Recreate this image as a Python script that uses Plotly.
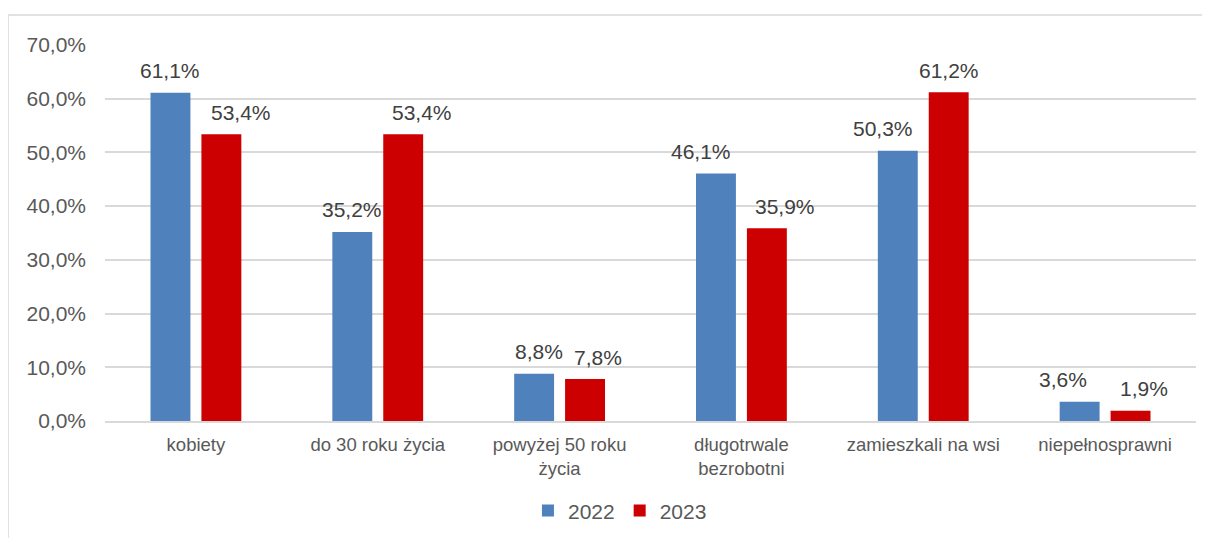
import plotly.graph_objects as go

categories = ["kobiety", "do 30 roku życia", "powyżej 50 roku<br>życia",
              "długotrwale<br>bezrobotni", "zamieszkali na wsi", "niepełnosprawni"]
values_2022 = [61.1, 35.2, 8.8, 46.1, 50.3, 3.6]
values_2023 = [53.4, 53.4, 7.8, 35.9, 61.2, 1.9]
series_names = ["2022", "2023"]
tick_values = [0, 10, 20, 30, 40, 50, 60, 70]
tick_labels = ["0,0%", "10,0%", "20,0%", "30,0%", "40,0%", "50,0%", "60,0%", "70,0%"]

colors = ["#4F81BD", "#CC0000"]
# label nudges (px) mimicking the original label placement
nudge_2022 = [0, 0, 5, -15, -15, -17]
nudge_2023 = [20, 19, 13, 18, 0, 13]

def fmt(v):
    return f"{v:.1f}".replace(".", ",") + "%"

fig = go.Figure()
for name, vals, col in zip(series_names, [values_2022, values_2023], colors):
    fig.add_trace(go.Bar(x=categories, y=vals, name=name, marker_color=col,
                         marker_line_width=0, hoverinfo="y"))

annotations = []
for vals, nudges, base in [(values_2022, nudge_2022, -25.5), (values_2023, nudge_2023, 25.5)]:
    for c, v, n in zip(categories, vals, nudges):
        annotations.append(dict(x=c, y=v, xref="x", yref="y", text=fmt(v), showarrow=False,
                                xshift=base + n, yshift=22, yanchor="middle",
                                font=dict(size=21, color="#404040")))

fig.update_layout(
    width=1210, height=538,
    margin=dict(l=97, r=22, t=37, b=125),
    paper_bgcolor="white", plot_bgcolor="white",
    font=dict(family="Liberation Sans, Arial, sans-serif", color="#595959"),
    barmode="group", bargap=0.44, bargroupgap=0.216,
    annotations=annotations,
    showlegend=True,
    legend=dict(orientation="h", x=0.472, xanchor="center", y=-0.239, yanchor="middle",
                font=dict(size=21, color="#595959"), itemwidth=30, traceorder="normal"),
    shapes=[
        dict(type="line", xref="paper", yref="paper", x0=-0.0889, x1=1.03, y0=1.0798, y1=1.0798,
             line=dict(color="#D9D9D9", width=1.5)),
        dict(type="line", xref="paper", yref="paper", x0=-0.0889, x1=-0.0889, y0=-0.35, y1=1.0798,
             line=dict(color="#D9D9D9", width=1.5)),
    ],
)
fig.update_xaxes(showgrid=False, showline=True, linecolor="#D9D9D9", linewidth=1.5,
                 tickfont=dict(size=18.5, color="#595959"), ticks="", ticklabelstandoff=6)
fig.update_yaxes(range=[0, 70], tickvals=tick_values, ticktext=tick_labels,
                 showgrid=True, gridcolor="#D9D9D9", gridwidth=1.5, zeroline=False,
                 tickfont=dict(size=21, color="#595959"), ticks="", ticklabelstandoff=18)

fig.write_html("out.html")
